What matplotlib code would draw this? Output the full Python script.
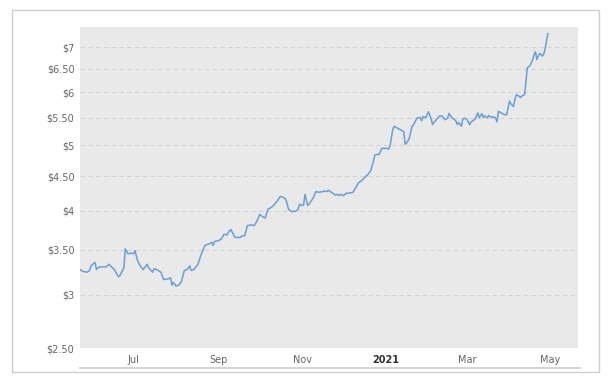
import matplotlib
matplotlib.use("Agg")
import matplotlib.pyplot as plt
import matplotlib.dates as mdates
from matplotlib.lines import Line2D
from matplotlib.patches import Rectangle
from matplotlib.ticker import FixedLocator, NullLocator, NullFormatter
import pandas as pd

# price series (log scale chart)
dates = [
    "2020-05-23", "2020-05-25", "2020-05-28", "2020-05-30", "2020-05-31", "2020-06-02",
    "2020-06-03", "2020-06-04", "2020-06-06", "2020-06-09", "2020-06-11", "2020-06-13",
    "2020-06-15", "2020-06-17", "2020-06-20", "2020-06-21", "2020-06-24", "2020-06-25",
    "2020-06-27", "2020-06-29", "2020-07-01", "2020-07-02", "2020-07-04", "2020-07-06",
    "2020-07-08", "2020-07-11", "2020-07-12", "2020-07-15", "2020-07-16", "2020-07-18",
    "2020-07-21", "2020-07-23", "2020-07-27", "2020-07-28", "2020-07-29", "2020-07-30",
    "2020-08-01", "2020-08-03", "2020-08-05", "2020-08-07", "2020-08-09", "2020-08-11",
    "2020-08-12", "2020-08-14", "2020-08-16", "2020-08-17", "2020-08-19", "2020-08-22",
    "2020-08-25", "2020-08-27", "2020-08-28", "2020-08-29", "2020-09-01", "2020-09-03",
    "2020-09-05", "2020-09-07", "2020-09-08", "2020-09-10", "2020-09-12", "2020-09-13",
    "2020-09-16", "2020-09-17", "2020-09-18", "2020-09-20", "2020-09-22", "2020-09-25",
    "2020-09-27", "2020-09-29", "2020-10-01", "2020-10-03", "2020-10-05", "2020-10-07",
    "2020-10-09", "2020-10-11", "2020-10-14", "2020-10-16", "2020-10-18", "2020-10-20",
    "2020-10-22", "2020-10-24", "2020-10-27", "2020-10-29", "2020-10-30", "2020-11-01",
    "2020-11-02", "2020-11-03", "2020-11-05", "2020-11-07", "2020-11-09", "2020-11-11",
    "2020-11-13", "2020-11-16", "2020-11-17", "2020-11-19", "2020-11-20", "2020-11-23",
    "2020-11-25", "2020-11-27", "2020-11-28", "2020-11-29", "2020-12-01", "2020-12-03",
    "2020-12-06", "2020-12-08", "2020-12-10", "2020-12-12", "2020-12-14", "2020-12-17",
    "2020-12-19", "2020-12-21", "2020-12-23", "2020-12-24", "2020-12-26", "2020-12-27",
    "2020-12-29", "2021-01-01", "2021-01-03", "2021-01-04", "2021-01-06", "2021-01-07",
    "2021-01-09", "2021-01-12", "2021-01-14", "2021-01-15", "2021-01-16", "2021-01-18",
    "2021-01-20", "2021-01-21", "2021-01-23", "2021-01-24", "2021-01-26", "2021-01-27",
    "2021-01-28", "2021-01-30", "2021-02-01", "2021-02-03", "2021-02-04", "2021-02-05",
    "2021-02-07", "2021-02-09", "2021-02-11", "2021-02-13", "2021-02-15", "2021-02-16",
    "2021-02-18", "2021-02-21", "2021-02-22", "2021-02-23", "2021-02-25", "2021-02-26",
    "2021-02-27", "2021-03-01", "2021-03-03", "2021-03-04", "2021-03-07", "2021-03-09",
    "2021-03-10", "2021-03-12", "2021-03-13", "2021-03-14", "2021-03-16", "2021-03-17",
    "2021-03-19", "2021-03-20", "2021-03-22", "2021-03-23", "2021-03-24", "2021-03-26",
    "2021-03-28", "2021-03-30", "2021-04-01", "2021-04-02", "2021-04-04", "2021-04-05",
    "2021-04-06", "2021-04-08", "2021-04-09", "2021-04-10", "2021-04-12", "2021-04-13",
    "2021-04-14", "2021-04-16", "2021-04-18", "2021-04-19", "2021-04-20", "2021-04-21",
    "2021-04-23", "2021-04-24", "2021-04-25", "2021-04-26", "2021-04-27", "2021-04-28",
    "2021-04-29",
]
prices = [
    3.27, 3.25, 3.24, 3.26, 3.31, 3.34,
    3.35, 3.27, 3.30, 3.30, 3.30, 3.33,
    3.30, 3.27, 3.19, 3.20, 3.29, 3.51,
    3.45, 3.46, 3.45, 3.49, 3.37, 3.31,
    3.27, 3.33, 3.29, 3.24, 3.28, 3.27,
    3.24, 3.16, 3.17, 3.18, 3.10, 3.13,
    3.09, 3.10, 3.14, 3.26, 3.27, 3.31,
    3.26, 3.27, 3.31, 3.33, 3.43, 3.55,
    3.57, 3.59, 3.55, 3.60, 3.61, 3.63,
    3.69, 3.68, 3.71, 3.75, 3.68, 3.65,
    3.65, 3.65, 3.67, 3.67, 3.80, 3.81,
    3.80, 3.86, 3.95, 3.92, 3.90, 4.02,
    4.04, 4.07, 4.14, 4.20, 4.19, 4.16,
    4.02, 3.99, 3.99, 4.02, 4.09, 4.07,
    4.08, 4.23, 4.07, 4.12, 4.18, 4.27,
    4.26, 4.27, 4.28, 4.27, 4.29, 4.25,
    4.22, 4.23, 4.21, 4.23, 4.21, 4.245,
    4.25, 4.26, 4.33, 4.40, 4.43, 4.49,
    4.53, 4.59, 4.75, 4.84, 4.85, 4.85,
    4.95, 4.95, 4.94, 5.00, 5.28, 5.34,
    5.31, 5.27, 5.24, 5.02, 5.04, 5.12,
    5.34, 5.36, 5.46, 5.50, 5.50, 5.44,
    5.52, 5.50, 5.61, 5.47, 5.37, 5.41,
    5.47, 5.53, 5.53, 5.46, 5.49, 5.58,
    5.50, 5.44, 5.37, 5.41, 5.34, 5.47,
    5.49, 5.47, 5.37, 5.42, 5.47, 5.59,
    5.50, 5.575, 5.50, 5.53, 5.50, 5.54,
    5.50, 5.52, 5.49, 5.42, 5.62, 5.59,
    5.56, 5.55, 5.82, 5.77, 5.71, 5.85,
    5.95, 5.92, 5.89, 5.92, 5.95, 6.20,
    6.52, 6.57, 6.71, 6.83, 6.89, 6.71,
    6.85, 6.83, 6.79, 6.83, 6.96, 7.14,
    7.33,
]

ytick_vals = [2.5, 3, 3.5, 4, 4.5, 5, 5.5, 6, 6.5, 7]
ytick_labels = ["$2.50", "$3", "$3.50", "$4", "$4.50", "$5", "$5.50", "$6", "$6.50", "$7"]
xtick_dates = ["2020-07-01", "2020-09-01", "2020-11-01", "2021-01-01", "2021-03-01", "2021-05-01"]
xtick_labels = ["Jul", "Sep", "Nov", "2021", "Mar", "May"]

W, H = 616, 388
fig = plt.figure(figsize=(W / 100, H / 100), dpi=100)
fig.patch.set_facecolor("white")

# outer frame of the widget
fig.add_artist(Rectangle((11.5 / W, 1 - 372 / H), (599 - 11.5) / W, (372 - 9.5) / H,
                         transform=fig.transFigure, fill=False, edgecolor="#cfcfcf", lw=1.0))
# thin rule under the date labels
fig.add_artist(Line2D([80 / W, 580 / W], [1 - 368 / H, 1 - 368 / H],
                      transform=fig.transFigure, color="#cccccc", lw=1.2))

ax = fig.add_axes([80 / W, 1 - 348 / H, (578 - 80) / W, (348 - 27) / H])
ax.set_facecolor("#e9e9ea")
for s in ax.spines.values():
    s.set_visible(False)

x = pd.to_datetime(dates)
ax.plot(x, prices, color="#6a9fd6", lw=1.1, zorder=3)

ax.set_yscale("log")
ax.set_ylim(2.5, 7.5)
ax.yaxis.set_major_locator(FixedLocator(ytick_vals))
ax.yaxis.set_minor_locator(NullLocator())
ax.yaxis.set_minor_formatter(NullFormatter())
ax.set_yticklabels(ytick_labels)
ax.grid(axis="y", color="#d2d2d2", ls=(0, (4, 3)), lw=0.8, zorder=1)

ax.set_xlim(pd.Timestamp("2020-05-23"), pd.Timestamp("2021-05-21"))
ax.set_xticks(pd.to_datetime(xtick_dates))
ax.set_xticklabels(xtick_labels)
ax.xaxis.set_minor_locator(NullLocator())

ax.tick_params(axis="both", length=0, labelsize=7, labelcolor="#666666")
ax.tick_params(axis="y", pad=4)
ax.tick_params(axis="x", pad=5)
for lab in ax.get_xticklabels():
    if lab.get_text() == "2021":
        lab.set_fontweight("bold")
        lab.set_color("#333333")

fig.savefig("out.png", dpi=100)
